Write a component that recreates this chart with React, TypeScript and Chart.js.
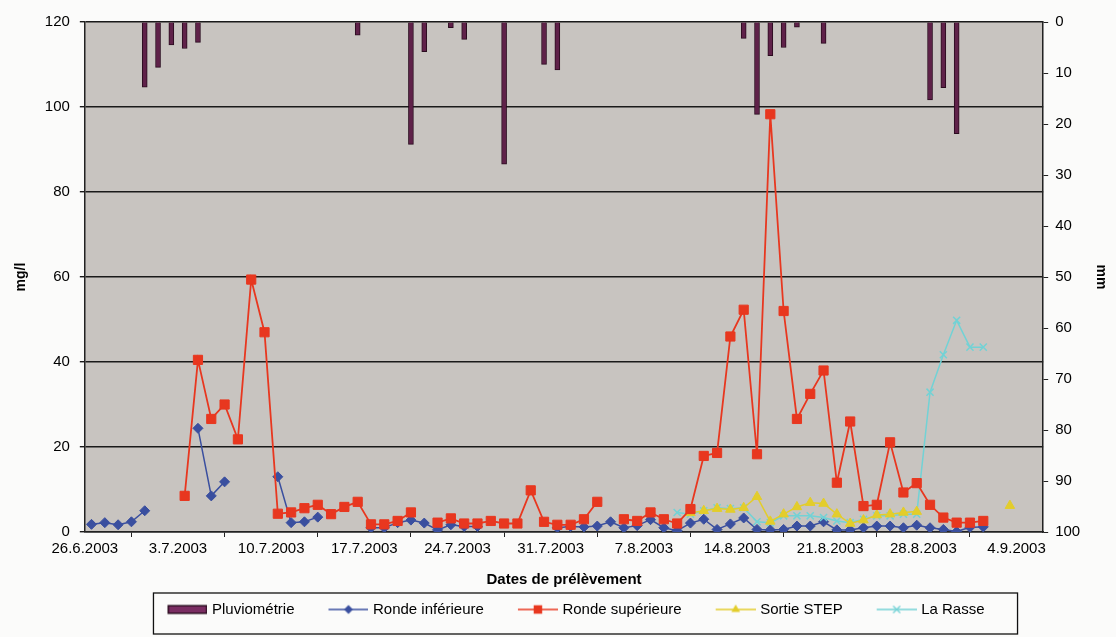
import React, { useEffect, useRef } from "react";
import { Chart, registerables } from "chart.js";

Chart.register(...registerables);

// ---------- data ----------
// x axis: daily cells, day 0 = 26.6.2003, axis runs over 72 days (to 6.9.2003)
const axisDays = 72;
const tickStepDays = 7;
const xTickLabels = [
  "26.6.2003", "3.7.2003", "10.7.2003", "17.7.2003", "24.7.2003", "31.7.2003",
  "7.8.2003", "14.8.2003", "21.8.2003", "28.8.2003", "4.9.2003",
];

// Pluviométrie (mm): day index (since 26.6.2003) and rainfall
const rainDays = [4, 5, 6, 7, 8, 20, 24, 25, 27, 28, 31, 34, 35, 49, 50, 51, 52, 53, 55, 63, 64, 65];
const rainMm = [12.8, 8.9, 4.5, 5.2, 4.0, 2.6, 24.0, 5.8, 1.1, 3.4, 27.9, 8.3, 9.4, 3.2, 18.1, 6.6, 5.0, 1.0, 4.2, 15.3, 12.9, 21.9];

// daily concentrations (mg/l), index = day since 26.6.2003, null = no sample
const rondeInferieure = [
  1.8, 2.2, 1.7, 2.4, 5.0, null, null, null, 24.4, 8.5,
  11.8, null, null, null, 13.0, 2.2, 2.4, 3.5, null, null,
  null, 1.0, 1.0, 2.2, 2.8, 2.1, 0.5, 1.7, 1.3, 1.3,
  null, null, null, null, null, 1.0, 1.3, 1.2, 1.4, 2.4,
  1.0, 1.5, 2.9, 1.0, 0.3, 2.1, 3.0, 0.6, 1.9, 3.3,
  0.6, 0.5, 0.6, 1.4, 1.4, 2.4, 0.5, 0.5, 1.0, 1.4,
  1.4, 1.0, 1.6, 1.0, 0.6, 0.1, 1.1, 1.2, null, null,
];
const rondeSuperieure = [
  null, null, null, null, null, null, null, 8.5, 40.5, 26.6,
  30.0, 21.8, 59.4, 47.0, 4.3, 4.6, 5.6, 6.4, 4.2, 5.9,
  7.1, 1.8, 1.8, 2.6, 4.6, null, 2.2, 3.2, 2.0, 2.0,
  2.6, 2.0, 2.0, 9.8, 2.4, 1.7, 1.7, 3.0, 7.1, null,
  3.0, 2.6, 4.6, 3.0, 2.0, 5.4, 17.9, 18.6, 46.0, 52.3,
  18.3, 98.3, 52.0, 26.6, 32.5, 38.0, 11.6, 26.0, 6.1, 6.4,
  21.1, 9.3, 11.5, 6.4, 3.4, 2.2, 2.2, 2.6, null, null,
];
const sortieStep = [
  null, null, null, null, null, null, null, null, null, null,
  null, null, null, null, null, null, null, null, null, null,
  null, null, null, null, null, null, null, null, null, null,
  null, null, null, null, null, null, null, null, null, null,
  null, null, null, null, null, 4.5, 5.0, 5.5, 5.3, 5.7,
  8.3, 2.5, 4.2, 5.9, 6.9, 6.7, 4.2, 2.0, 2.8, 4.0,
  4.2, 4.6, 4.8, null, null, null, null, null, null, 6.2,
];
const laRasse = [
  null, null, null, null, null, null, null, null, null, null,
  null, null, null, null, null, null, null, null, null, null,
  null, null, null, null, null, null, null, null, null, null,
  null, null, null, null, null, null, null, null, null, null,
  null, null, null, null, 4.6, 4.2, 5.0, 5.7, 5.5, 5.7,
  2.4, 2.2, 3.8, 3.8, 3.8, 3.4, 2.6, 2.2, 3.0, 3.8,
  3.8, 4.2, 4.2, 32.9, 41.7, 49.8, 43.5, 43.5, null, null,
];

const leftTicks = { min: 0, max: 120, step: 20 };
const rightTicks = { min: 0, max: 100, step: 10 };

// ---------- styles ----------
const FONT = "'Liberation Sans', Arial, sans-serif";
const PLOT_BG = "#c8c4c0";
const PAGE_BG = "#fbfbfa";
const COL_RAIN = "#5f2149";
const COL_RAIN_BORDER = "#2a0c1f";
const COL_BLUE = "#3a4f9f";
const COL_RED = "#e8371f";
const COL_YELLOW = "#e3cd2b";
const COL_CYAN = "#72d2d5";
const LEAD = 27;
const SW = 40;

const toPoints = (arr: (number | null)[]) => arr.map((v, i) => ({ x: i + 0.5, y: v }));

function drawMarker(g: CanvasRenderingContext2D, style: string, x: number, y: number, r: number, color: string) {
  g.fillStyle = color;
  g.strokeStyle = color;
  g.beginPath();
  if (style === "rectRot") {
    g.moveTo(x, y - r); g.lineTo(x + r, y); g.lineTo(x, y + r); g.lineTo(x - r, y); g.closePath(); g.fill();
  } else if (style === "rect") {
    const s = r * Math.SQRT1_2;
    g.rect(x - s, y - s, 2 * s, 2 * s); g.fill();
  } else if (style === "triangle") {
    g.moveTo(x, y - r); g.lineTo(x + r * 0.87, y + r * 0.5); g.lineTo(x - r * 0.87, y + r * 0.5); g.closePath(); g.fill();
  } else if (style === "crossRot") {
    const s = r * Math.SQRT1_2;
    g.lineWidth = 1.3;
    g.moveTo(x - s, y - s); g.lineTo(x + s, y + s); g.moveTo(x + s, y - s); g.lineTo(x - s, y + s); g.stroke();
  }
}

function makeSwatch(kind: string, color: string, marker: string, r: number): HTMLCanvasElement {
  const c = document.createElement("canvas");
  c.width = LEAD + SW;
  c.height = 14;
  const g = c.getContext("2d")!;
  if (kind === "bar") {
    g.fillStyle = "#7a2d62";
    g.fillRect(LEAD, 3, SW, 8);
    g.strokeStyle = COL_RAIN_BORDER;
    g.lineWidth = 1.5;
    g.strokeRect(LEAD + 0.75, 3.25, SW - 1.5, 7.5);
  } else {
    g.strokeStyle = color;
    g.lineWidth = 1.5;
    g.beginPath();
    g.moveTo(LEAD, 7);
    g.lineTo(LEAD + SW, 7);
    g.stroke();
    drawMarker(g, marker, LEAD + SW / 2, 7, r, color);
  }
  return c;
}

export default function App() {
  const ref = useRef<HTMLCanvasElement | null>(null);

  useEffect(() => {
    if (!ref.current) return;
    Chart.defaults.font.family = FONT;

    const swatches = [
      makeSwatch("bar", COL_RAIN, "", 0),
      makeSwatch("line", COL_BLUE, "rectRot", 4.5),
      makeSwatch("line", COL_RED, "rect", 6),
      makeSwatch("line", COL_YELLOW, "triangle", 5),
      makeSwatch("line", COL_CYAN, "crossRot", 5),
    ];

    const framePlugin = {
      id: "frame",
      beforeDraw(chart: any) {
        const { ctx, chartArea: a, width, height } = chart;
        ctx.save();
        ctx.fillStyle = PAGE_BG;
        ctx.fillRect(0, 0, width, height);
        ctx.fillStyle = PLOT_BG;
        ctx.fillRect(a.left, a.top, a.right - a.left, a.bottom - a.top);
        ctx.restore();
      },
      afterDraw(chart: any) {
        const lg = chart.legend;
        if (!lg || !lg.legendHitBoxes || !lg.legendHitBoxes.length) return;
        const hb = lg.legendHitBoxes;
        const first = hb[0];
        const last = hb[hb.length - 1];
        const left = first.left + LEAD - 3 - 14;
        const right = last.left + last.width + 33;
        const top = lg.top + 1;
        const bottom = lg.top + 42;
        const ctx = chart.ctx;
        ctx.save();
        ctx.strokeStyle = "#111";
        ctx.lineWidth = 1.3;
        ctx.strokeRect(left, top, right - left, bottom - top);
        ctx.restore();
      },
    };

    const lineBase = {
      type: "line" as const,
      xAxisID: "x",
      yAxisID: "y",
      spanGaps: false,
      tension: 0,
      pointBorderWidth: 1,
    };

    const chart = new Chart(ref.current, {
      type: "line",
      data: {
        datasets: [
          {
            type: "bar",
            label: "Pluviométrie",
            data: rainDays.map((d, i) => ({ x: d + 0.5, y: rainMm[i] })),
            xAxisID: "x",
            yAxisID: "y2",
            backgroundColor: COL_RAIN,
            borderColor: COL_RAIN_BORDER,
            borderWidth: 1,
            barThickness: 5,
            order: 5,
          } as any,
          {
            ...lineBase,
            label: "Ronde inférieure",
            data: toPoints(rondeInferieure),
            borderColor: COL_BLUE,
            backgroundColor: COL_BLUE,
            borderWidth: 1.5,
            pointStyle: "rectRot",
            pointRadius: 5,
            order: 4,
          },
          {
            ...lineBase,
            label: "Ronde supérieure",
            data: toPoints(rondeSuperieure),
            borderColor: COL_RED,
            backgroundColor: COL_RED,
            borderWidth: 1.8,
            pointStyle: "rect",
            pointRadius: 6.5,
            order: 1,
          },
          {
            ...lineBase,
            label: "Sortie STEP",
            data: toPoints(sortieStep),
            borderColor: COL_YELLOW,
            backgroundColor: COL_YELLOW,
            borderWidth: 1.5,
            pointStyle: "triangle",
            pointRadius: 5.5,
            order: 2,
          },
          {
            ...lineBase,
            label: "La Rasse",
            data: toPoints(laRasse),
            borderColor: COL_CYAN,
            backgroundColor: COL_CYAN,
            borderWidth: 1.5,
            pointStyle: "crossRot",
            pointRadius: 5,
            pointBorderWidth: 1.5,
            order: 3,
          },
        ],
      },
      options: {
        animation: false,
        responsive: false,
        events: [],
        layout: { padding: { top: 22, right: 0, bottom: 10, left: 0 } },
        plugins: {
          tooltip: { enabled: false },
          legend: {
            position: "bottom",
            fullSize: false,
            labels: {
              usePointStyle: true,
              pointStyleWidth: LEAD + SW - 6,
              padding: 10,
              color: "#000",
              font: { size: 15, family: FONT },
              sort: (a: any, b: any) => a.datasetIndex - b.datasetIndex,
              generateLabels: (ch: any) =>
                ch.data.datasets.map((ds: any, i: number) => ({
                  text: ds.label,
                  datasetIndex: i,
                  pointStyle: swatches[i],
                  fillStyle: "rgba(0,0,0,0)",
                  strokeStyle: "rgba(0,0,0,0)",
                  lineWidth: 0,
                  hidden: false,
                  fontColor: "#000",
                })),
            },
          },
        },
        scales: {
          x: {
            type: "linear",
            min: 0,
            max: axisDays,
            offset: false,
            afterBuildTicks: (scale: any) => {
              scale.ticks = xTickLabels.map((_, i) => ({ value: i * tickStepDays }));
            },
            ticks: {
              autoSkip: false,
              maxRotation: 0,
              padding: 3,
              color: "#000",
              font: { size: 15 },
              callback: (_v: any, i: number) => xTickLabels[i],
            },
            grid: { drawOnChartArea: false, drawTicks: true, tickLength: 5, color: "#222", lineWidth: 1 },
            border: { display: true, color: "#222", width: 1.5 },
            title: {
              display: true,
              text: "Dates de prélèvement",
              color: "#000",
              font: { size: 15, weight: "bold" },
              padding: { top: 10, bottom: 3 },
            },
          },
          y: {
            type: "linear",
            position: "left",
            min: leftTicks.min,
            max: leftTicks.max,
            ticks: { stepSize: leftTicks.step, padding: 10, color: "#000", font: { size: 15 } },
            grid: { color: "#1a1a1a", lineWidth: 1.4, drawTicks: true, tickLength: 5 },
            border: { display: true, color: "#222", width: 1.5 },
            title: {
              display: true,
              text: "mg/l",
              color: "#000",
              font: { size: 14, weight: "bold" },
              padding: { top: 13, bottom: 5 },
            },
          },
          y2: {
            type: "linear",
            position: "right",
            reverse: true,
            min: rightTicks.min,
            max: rightTicks.max,
            ticks: { stepSize: rightTicks.step, padding: 7, color: "#000", font: { size: 15 } },
            grid: { drawOnChartArea: false, drawTicks: true, tickLength: 5, color: "#222" },
            border: { display: true, color: "#222", width: 1.5 },
            title: {
              display: true,
              text: "mm",
              color: "#000",
              font: { size: 14, weight: "bold" },
              padding: { top: 7, bottom: 5 },
            },
          },
        },
      } as any,
      plugins: [framePlugin],
    });

    return () => chart.destroy();
  }, []);

  return (
    <div style={{ position: "fixed", left: 0, top: 0, width: 1116, height: 637, background: PAGE_BG }}>
      <canvas ref={ref} width={1116} height={637} style={{ display: "block" }} />
    </div>
  );
}
